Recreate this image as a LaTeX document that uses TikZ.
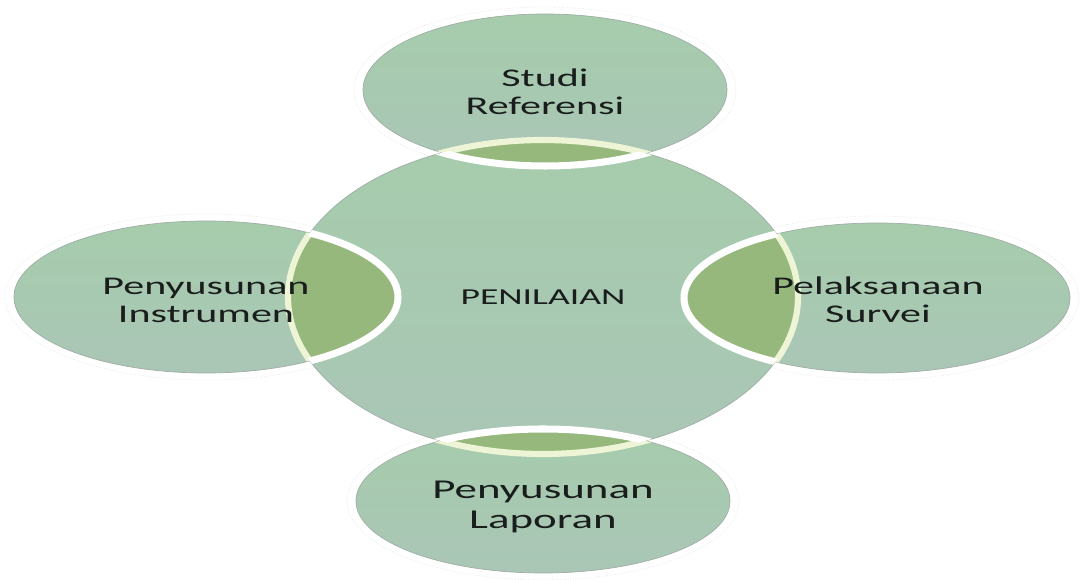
\documentclass[tikz,border=0pt]{standalone}
\usepackage{fontspec}
\newfontfamily\vennfont[FakeStretch=1.65]{Carlito}
\definecolor{vennbody}{RGB}{170,198,182}
\definecolor{venntop}{RGB}{166,204,172}
\definecolor{vennlens}{RGB}{150,184,124}
\definecolor{venncream}{RGB}{238,244,214}
\definecolor{vennrim}{RGB}{160,174,165}
\definecolor{venntext}{RGB}{25,30,28}
\tikzset{
  blob/.style={top color=venntop, bottom color=vennbody, draw=vennrim, line width=0.4pt},
  lens/.style={fill=vennlens},
  creamline/.style={draw=venncream, line width=3.5pt},
  whiteline/.style={draw=white, line width=4pt},
  glow/.style={draw=black!8, densely dotted, line width=0.5pt},
  satlabel/.style={font=\vennfont\fontsize{14.5}{16}\selectfont, text=venntext, align=center},
  hublabel/.style={font=\vennfont\fontsize{13}{15}\selectfont, text=venntext}
}

\begin{document}
\begin{tikzpicture}[x=0.02cm,y=-0.02cm]
  \fill[white] (0,0) rectangle (1086,580);
  \useasboundingbox (0,0) rectangle (1086,580);
  \def\hubpath{(543,297) ellipse [x radius=255, y radius=157]}

  % faint outer rims
  \foreach \cx/\cy/\rx/\ry in {545/90/182/76, 206/297/192/76, 877/298/193/75, 543/501/187/72}
    \draw[glow] (\cx,\cy) ellipse [x radius=\rx+9, y radius=\ry+7];

  \path[blob] \hubpath;
  \foreach \cx/\cy/\rx/\ry in {545/90/182/76, 206/297/192/76, 877/298/193/75, 543/501/187/72}
    \path[blob] (\cx,\cy) ellipse [x radius=\rx, y radius=\ry];

  % overlaps
  \foreach \cx/\cy/\rx/\ry in {545/90/182/76, 206/297/192/76, 877/298/193/75, 543/501/187/72}{
    \begin{scope}
      \clip (\cx,\cy) ellipse [x radius=\rx, y radius=\ry];
      \path[lens] \hubpath;
      \path[creamline] \hubpath;
    \end{scope}
    \begin{scope}
      \clip \hubpath;
      \path[whiteline] (\cx,\cy) ellipse [x radius=\rx, y radius=\ry];
    \end{scope}
  }

  \node[hublabel] (hub) at (543,297) {PENILAIAN};
  \node[satlabel] (studi) at (545,92) {Studi\\Referensi};
  \node[satlabel] (instrumen) at (206,300) {Penyusunan\\Instrumen};
  \node[satlabel] (survei) at (878,300) {Pelaksanaan\\Survei};
  \node[satlabel,font=\vennfont\fontsize{15.5}{17}\selectfont] (laporan) at (543,507) {Penyusunan\\Laporan};
\end{tikzpicture}
\end{document}
